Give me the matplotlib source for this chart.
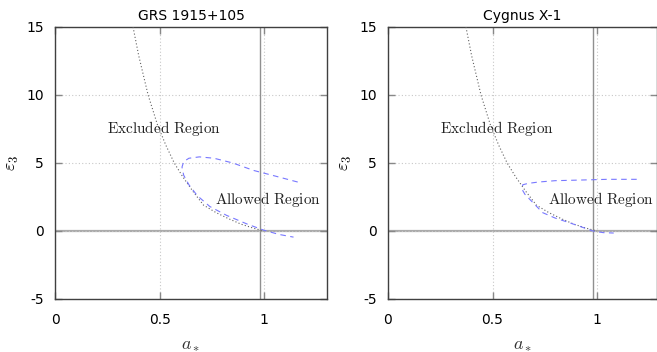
import numpy as np
import matplotlib
matplotlib.use("Agg")
import matplotlib.pyplot as plt

plt.rcParams['mathtext.fontset'] = 'cm'
plt.rcParams['font.family'] = 'DejaVu Sans'

# boundary curve (same for both sources)
bound_a = [0.373, 0.40, 0.445, 0.49, 0.53, 0.57, 0.61, 0.66, 0.71, 0.77, 0.83, 0.89, 0.95, 1.0]
bound_eps = [15.0, 12.9, 10.0, 7.8, 6.3, 5.0, 4.0, 2.9, 1.9, 1.35, 0.9, 0.5, 0.2, 0.0]

# GRS 1915+105 contour
grs_a = [1.16, 1.05, 0.95, 0.85, 0.76, 0.69, 0.64, 0.615, 0.607, 0.615, 0.64,
         0.68, 0.74, 0.82, 0.92, 1.0, 1.07, 1.14]
grs_eps = [3.6, 4.05, 4.45, 5.0, 5.35, 5.45, 5.35, 5.1, 4.7, 4.1, 3.4,
           2.6, 1.8, 1.15, 0.5, 0.05, -0.25, -0.45]

# Cygnus X-1 contour
cyg_a = [1.19, 1.05, 0.93, 0.80, 0.72, 0.67, 0.645, 0.64, 0.655, 0.68, 0.74,
         0.80, 0.86, 0.92, 0.98, 1.03, 1.08]
cyg_eps = [3.8, 3.8, 3.75, 3.7, 3.6, 3.5, 3.4, 3.1, 2.7, 2.3, 1.35,
           0.95, 0.65, 0.33, 0.0, -0.12, -0.15]

a_line = 0.98
xticks = [0, 0.5, 1]
xtick_labels = ['0', '0.5', '1']
yticks = [-5, 0, 5, 10, 15]
ytick_labels = ['-5', '0', '5', '10', '15']

W, H = 657, 352
fig = plt.figure(figsize=(W / 100, H / 100), dpi=100)
ax1 = fig.add_axes([55 / W, 1 - 299 / H, 272 / W, 272 / H])
ax2 = fig.add_axes([388 / W, 1 - 299 / H, 269 / W, 272 / H])

panels = [(ax1, 'GRS 1915+105', grs_a, grs_eps, 1.3),
          (ax2, 'Cygnus X-1', cyg_a, cyg_eps, 269 / 209)]

for ax, title, ca, ce, xmax in panels:
    ax.set_xlim(0, xmax)
    ax.set_ylim(-5, 15)
    ax.set_xticks(xticks)
    ax.set_xticklabels(xtick_labels)
    ax.set_yticks(yticks)
    ax.set_yticklabels(ytick_labels)
    ax.grid(True, linestyle=(0, (1, 2)), color='#c8c8c8', linewidth=0.8)
    ax.tick_params(direction='in', length=5, width=1, color='#888888',
                   top=True, right=True, labelsize=10, pad=8)
    ax.tick_params(axis='x', pad=10)
    for s in ax.spines.values():
        s.set_color('#404040')
        s.set_linewidth(1)

    ax.axhline(0, color='#aaaaaa', linewidth=1.6, zorder=1)
    ax.axvline(a_line, color='#909090', linewidth=1.0, zorder=1)

    ax.plot(bound_a, bound_eps, color='#606060', linestyle=(0, (1, 2)),
            linewidth=0.8, zorder=3)
    ax.plot(ca, ce, color='#7878ff', linestyle=(0, (5, 4)),
            linewidth=0.8, zorder=3)

    ax.text(0.52, 7.5, r'$\mathrm{Excluded\ Region}$', fontsize=11,
            ha='center', va='center', color='#222222')
    ax.text(1.02, 2.3, r'$\mathrm{Allowed\ Region}$', fontsize=11,
            ha='center', va='center', color='#222222', clip_on=False)

    ax.set_title(title, fontsize=10, pad=5)
    ax.set_xlabel(r'$a_*$', fontsize=13, color='#333333', labelpad=6)
    ax.set_ylabel(r'$\varepsilon_3$', fontsize=13, labelpad=4)

fig.savefig('out.png', dpi=100)
